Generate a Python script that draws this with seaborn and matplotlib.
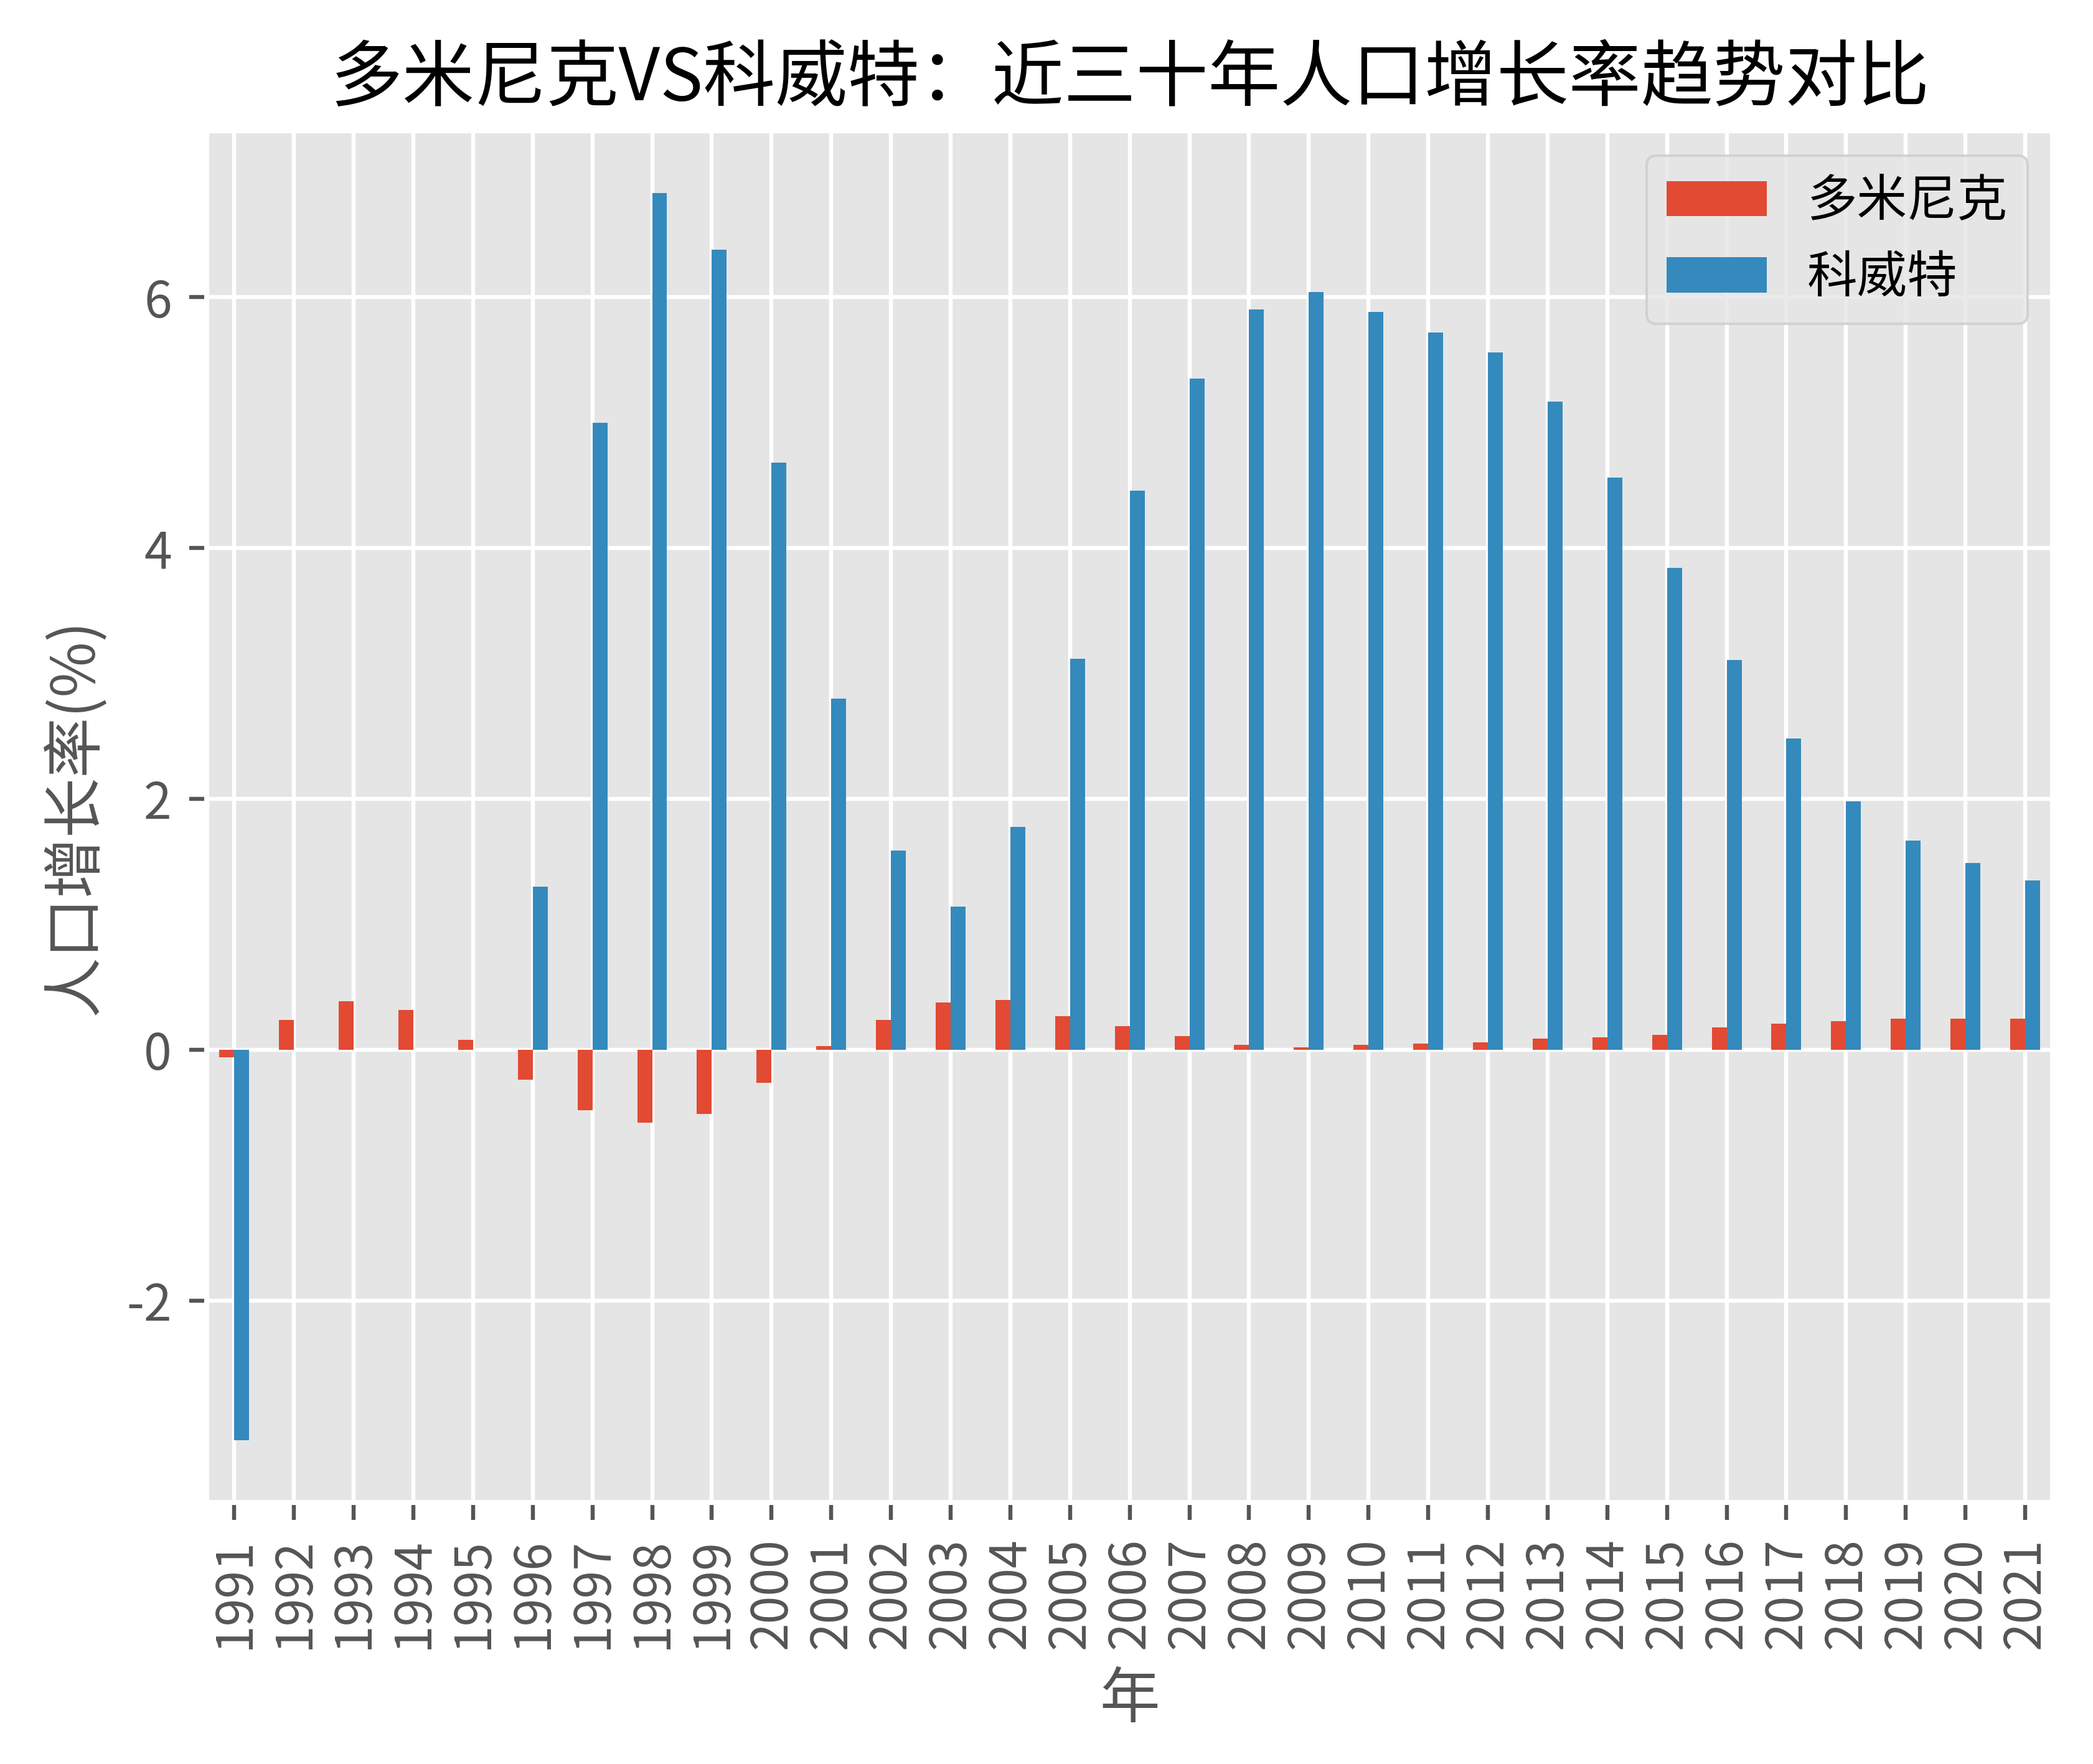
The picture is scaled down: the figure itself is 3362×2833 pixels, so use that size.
import numpy as np
import pandas as pd
import matplotlib
matplotlib.use("Agg")
import matplotlib.pyplot as plt
import seaborn as sns

years = [str(y) for y in range(1991, 2022)]
dominica = [-0.06, 0.24, 0.39, 0.32, 0.08, -0.24, -0.48, -0.58, -0.51, -0.26,
            0.03, 0.24, 0.38, 0.40, 0.27, 0.19, 0.11, 0.04, 0.02, 0.04,
            0.05, 0.06, 0.09, 0.10, 0.12, 0.18, 0.21, 0.23, 0.25, 0.25, 0.25]
kuwait = [-3.11, 0.0, 0.0, 0.0, 0.0, 1.30, 5.00, 6.83, 6.38, 4.68,
          2.80, 1.59, 1.14, 1.78, 3.12, 4.46, 5.35, 5.90, 6.04, 5.88,
          5.72, 5.56, 5.17, 4.56, 3.84, 3.11, 2.48, 1.98, 1.67, 1.49, 1.35]
series_names = ["多米尼克", "科威特"]
colors = ["#E24A33", "#348ABD"]

df = pd.DataFrame({
    "年": years * 2,
    "值": dominica + kuwait,
    "国家": [series_names[0]] * len(years) + [series_names[1]] * len(years),
})

plt.style.use("ggplot")
plt.rcParams["font.family"] = ["Noto Sans CJK SC", "DejaVu Sans"]
plt.rcParams["axes.unicode_minus"] = False

dpi = 580
fig = plt.figure(figsize=(3362 / dpi, 2833 / dpi), dpi=dpi)
ax = fig.add_axes([0.0988, 0.1483, 0.9807 - 0.0988, 0.9259 - 0.1483])

sns.barplot(data=df, x="年", y="值", hue="国家", hue_order=series_names,
            order=years, palette=colors, width=0.5, saturation=1,
            edgecolor="none", linewidth=0, ax=ax, gap=0)

ax.xaxis.grid(True)
ax.yaxis.grid(True)
ax.set_axisbelow(True)
ax.set_xlim(-0.46, 30.46)
ax.set_yticks([-2, 0, 2, 4, 6])
ax.tick_params(axis="x", labelrotation=90)

ax.set_title("多米尼克VS科威特：近三十年人口增长率趋势对比", fontsize=14.4, color="black")
ax.set_xlabel("年", fontsize=12, color="#555555")
ax.set_ylabel("人口增长率(%)", fontsize=12, color="#555555")

handles, labels = ax.get_legend_handles_labels()
ax.legend(handles, labels, loc="upper right", fontsize=10)

fig.savefig("out.png", dpi=dpi)
